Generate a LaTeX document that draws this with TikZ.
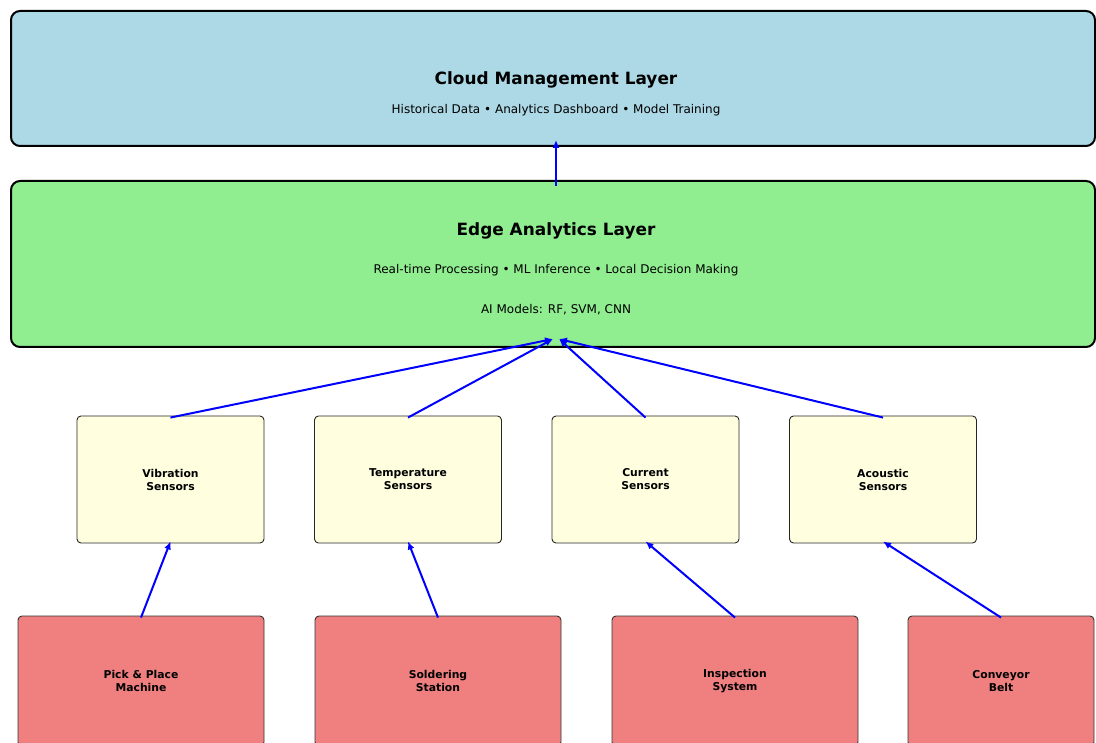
\documentclass[tikz,border=0pt]{standalone}
\usepackage{fontspec}
\setmainfont{DejaVu Sans}
\usetikzlibrary{arrows.meta}
\definecolor{cloudfill}{HTML}{ADD8E6}
\definecolor{edgefill}{HTML}{90EE90}
\definecolor{sensorfill}{HTML}{FFFFE0}
\definecolor{machinefill}{HTML}{F08080}
\tikzset{
  layerbox/.style={draw=black, line width=2pt, rounded corners=9pt, inner sep=0pt},
  sensorbox/.style={draw=black!85, line width=0.9pt, fill=sensorfill, rounded corners=4pt,
    minimum width=187pt, minimum height=127pt, inner sep=0pt, align=center,
    font=\fontsize{10.8}{13}\selectfont\bfseries},
  machinebox/.style={draw=black!80, line width=0.9pt, fill=machinefill, rounded corners=4pt,
    minimum height=130pt, inner sep=0pt, align=center,
    font=\fontsize{10.8}{13}\selectfont\bfseries},
  titletext/.style={font=\fontsize{16.9}{20}\selectfont\bfseries, inner sep=0pt},
  subtext/.style={font=\fontsize{12}{14}\selectfont, inner sep=0pt},
  flow/.style={draw=blue, line width=2pt, -{Latex[length=8pt,width=7pt]}},
}
\begin{document}
\begin{tikzpicture}[x=1pt, y=-1pt]
\useasboundingbox (0,0) rectangle (1096,743);
\clip (0,0) rectangle (1096,743);

% cloud layer
\node[layerbox, fill=cloudfill, minimum width=1084pt, minimum height=135pt] (cloud) at (553,78.5) {};
\node[titletext] (cloudtitle) at (556,79.5) {Cloud Management Layer};
\node[subtext] (cloudsub) at (556,110) {Historical Data • Analytics Dashboard • Model Training};

% edge layer
\node[layerbox, fill=edgefill, minimum width=1084pt, minimum height=166pt] (edge) at (553,264) {};
\node[titletext] (edgetitle) at (556,230.5) {Edge Analytics Layer};
\node[subtext] (edgesub) at (556,270) {Real-time Processing • ML Inference • Local Decision Making};
\node[subtext] (edgemodels) at (556,310) {AI Models: RF, SVM, CNN};

% sensors
\node[sensorbox] (vib) at (170.5,479.5) {Vibration\\Sensors};
\node[sensorbox] (temp) at (408,479.5) {Temperature\\Sensors};
\node[sensorbox] (curr) at (645.5,479.5) {Current\\Sensors};
\node[sensorbox] (acou) at (883,479.5) {Acoustic\\Sensors};

% machines
\node[machinebox, minimum width=246pt] (pick) at (141,681) {Pick \& Place\\Machine};
\node[machinebox, minimum width=246pt] (solder) at (438,681) {Soldering\\Station};
\node[machinebox, minimum width=246pt] (insp) at (735,681) {Inspection\\System};
\node[machinebox, minimum width=186pt] (conv) at (1001,681) {Conveyor\\Belt};

% arrow end points inside the layer boxes
\coordinate (edgeout) at (556,186);
\coordinate (cloudin) at (556,140);
\coordinate (edgeinL) at (553,339);
\coordinate (edgeinR) at (559,339);

% data flow
\draw[flow] (edgeout) -- (cloudin);
\draw[flow] ([yshift=-2pt]vib.north) -- (edgeinL);
\draw[flow] ([yshift=-2pt]temp.north) -- (edgeinL);
\draw[flow] ([yshift=-2pt]curr.north) -- (edgeinR);
\draw[flow] ([yshift=-2pt]acou.north) -- (edgeinR);
\draw[flow] ([yshift=-2pt]pick.north) -- ([yshift=2pt]vib.south);
\draw[flow] ([yshift=-2pt]solder.north) -- ([yshift=2pt]temp.south);
\draw[flow] ([yshift=-2pt]insp.north) -- ([yshift=2pt]curr.south);
\draw[flow] ([yshift=-2pt]conv.north) -- ([yshift=2pt]acou.south);
\end{tikzpicture}
\end{document}
